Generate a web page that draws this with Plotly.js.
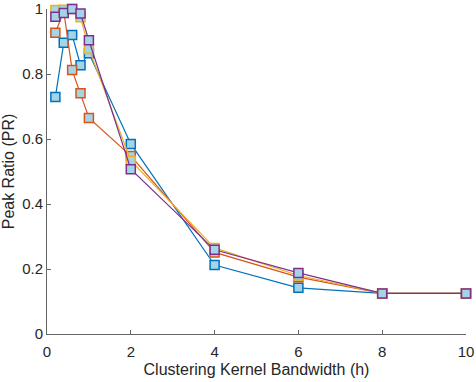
<!DOCTYPE html>
<html><head><meta charset="utf-8">
<script src="https://cdn.plot.ly/plotly-3.0.1.min.js"></script>
<style>html,body{margin:0;padding:0;background:#fff}#chart{width:476px;height:382px}</style>
</head><body><div id="chart"></div>
<script>
const bandwidth = [0.2, 0.4, 0.6, 0.8, 1, 2, 4, 6, 8, 10];
const seriesBlue = [0.729, 0.896, 0.92, 0.827, 0.864, 0.585, 0.212, 0.142, 0.125, 0.125];
const seriesOrange = [0.927, 0.993, 0.812, 0.741, 0.665, 0.548, 0.251, 0.175, 0.125, 0.125];
const seriesYellow = [0.997, 0.998, 1.0, 0.975, 0.878, 0.533, 0.265, 0.18, 0.125, 0.125];
const seriesPurple = [0.976, 0.988, 1.0, 0.986, 0.904, 0.507, 0.259, 0.188, 0.125, 0.125];
const xTicks = [0, 2, 4, 6, 8, 10];
const yTicks = [0, 0.2, 0.4, 0.6, 0.8, 1];
const yTickText = ['0', '0.2', '0.4', '0.6', '0.8', '1'];

const fill = '#a3d5e6';
const FONT = 'Liberation Sans, Arial, sans-serif';
function tr(y, color) {
  return {x: bandwidth, y: y, type: 'scatter', mode: 'lines+markers',
    line: {color: color, width: 1.2},
    marker: {symbol: 'square', size: 9, color: fill, line: {color: color, width: 1.5}},
    cliponaxis: false, showlegend: false};
}
const data = [tr(seriesBlue, '#0072BD'), tr(seriesOrange, '#D95319'), tr(seriesYellow, '#EDB120'), tr(seriesPurple, '#7E2F8E')];
const axisCommon = {showgrid: false, zeroline: false, showline: true, linecolor: '#666', linewidth: 1,
  ticks: 'inside', ticklen: 4, tickcolor: '#666', ticklabeloverflow: 'allow',
  tickfont: {family: FONT, size: 15, color: '#262626'}};
const layout = {
  width: 476, height: 382, margin: {l: 47, r: 10, t: 9, b: 48},
  paper_bgcolor: '#fff', plot_bgcolor: '#fff',
  xaxis: Object.assign({}, axisCommon, {range: [0, 10], tickvals: xTicks, ticktext: xTicks.map(String),
    ticklabelstandoff: 4,
    title: {text: 'Clustering Kernel Bandwidth (h)', font: {family: FONT, size: 16, color: '#262626'}, standoff: 4}}),
  yaxis: Object.assign({}, axisCommon, {range: [0, 1], tickvals: yTicks, ticktext: yTickText,
    title: {text: 'Peak Ratio (PR)', font: {family: FONT, size: 16, color: '#262626'}, standoff: 3}})
};
Plotly.newPlot('chart', data, layout, {displayModeBar: false, staticPlot: true});
</script></body></html>
